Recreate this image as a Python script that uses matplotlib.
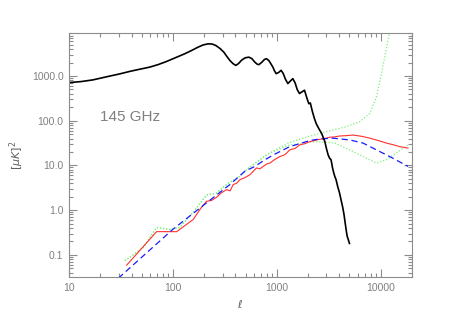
import matplotlib
matplotlib.use("Agg")
import matplotlib.pyplot as plt
from matplotlib.ticker import FixedLocator, LogLocator, NullFormatter, FuncFormatter

plt.rcParams["font.family"] = ["Liberation Sans", "DejaVu Sans"]

# CMB temperature spectrum (black)
cmb_l = [10, 13, 17, 24.8, 30, 38.6, 48, 60, 72, 87, 105, 130, 152, 174, 195,
         218, 238, 259, 285, 309, 330, 353, 378, 403, 428, 457, 495, 538, 575,
         614, 645, 671, 720, 760, 796, 840, 880, 916, 950, 985, 1040, 1099,
         1150, 1210, 1276, 1340, 1425, 1500, 1570, 1652, 1740, 1846, 1940, 2032,
         2100, 2200, 2306, 2400, 2479, 2580, 2692, 2800, 2898, 3000, 3115, 3220,
         3327, 3430, 3532, 3620, 3716, 3850, 4010, 4150, 4315, 4430, 4543, 4650,
         4746, 4870, 5000]
cmb_dl = [713, 750, 820, 1000, 1100, 1271, 1420, 1585, 1800, 2120, 2550, 3146,
          3750, 4406, 4950, 5248, 5200, 4810, 4100, 3415, 2750, 2234, 1900, 1727,
          1900, 2250, 2550, 2642, 2450, 2047, 1850, 1792, 2050, 2350, 2435, 2200,
          1850, 1585, 1300, 1130, 1200, 1339, 1150, 850, 678, 760, 875, 700, 500,
          406, 440, 481, 330, 240, 250, 160, 110, 85, 73.6, 62, 52.5, 42, 34.1,
          24, 17.3, 14.5, 13.4, 9, 6.78, 5.6, 4.81, 3.4, 2.44, 1.7, 1.13, 0.8,
          0.525, 0.36, 0.264, 0.22, 0.18]

# residual power spectrum, measured (red)
red_l = [35.9, 69.7, 108.6, 157, 185, 211, 235, 263, 290, 328, 355, 380, 410,
         441, 490, 550, 600, 638, 687, 738, 800, 857, 950, 1069, 1200, 1334,
         1500, 1664, 1850, 2077, 2300, 2590, 2900, 3236, 3600, 4040, 4700, 5420,
         6500, 7840, 9500, 11350, 13200, 15200, 18300]
red_dl = [0.059, 0.331, 0.33, 0.62, 1.1, 1.58, 1.65, 1.94, 2.4, 2.88, 2.7, 3.73,
          4.0, 4.8, 5.3, 6.2, 7.6, 8.8, 8.4, 9.5, 10.8, 11.3, 13.5, 15.8, 17.5,
          22.4, 24.0, 29, 30.5, 34.1, 36.0, 38.6, 40.0, 42.8, 43.5, 45.6, 46.5,
          47.9, 45.0, 40.9, 36.0, 31.6, 29.0, 26.4, 24.4]

# model (blue dashed)
blue_l = [29.8, 51.8, 99.5, 175, 353, 492, 614, 767, 957, 1334, 2077, 2590,
          3478, 5035, 6760, 9770, 13100, 18300]
blue_dl = [0.03, 0.095, 0.37, 1.04, 3.73, 7.4, 9.5, 13.4, 17.9, 26.4, 36.0,
           39.2, 40.7, 37.2, 31.6, 20.5, 14.5, 9.5]

# error envelope (green dotted)
gup_l = [34.5, 51.8, 69.7, 93.6, 116, 157, 211, 263, 340, 441, 526, 591, 819,
         1276, 1986, 3090, 4680, 6280, 7840, 9100, 10160, 11250, 12100]
gup_dl = [0.074, 0.146, 0.41, 0.37, 0.41, 0.9, 2.2, 2.4, 4.0, 5.7, 8.5, 10.4,
          18.0, 31.6, 44, 58, 74, 95, 146, 341, 1130, 3727, 8750]
glo_l = [34.5, 51.8, 69.7, 93.6, 116, 157, 211, 263, 340, 441, 526, 591, 819,
         1276, 1986, 2590, 3610, 5420, 7280, 9100, 11350, 14150, 18300]
glo_dl = [0.074, 0.146, 0.41, 0.37, 0.41, 0.9, 2.2, 2.4, 4.0, 5.7, 8.5, 10.4,
          18.0, 28.0, 33.0, 34.1, 31.6, 20.5, 14.5, 11.3, 13.4, 18.9, 29.0]

axis_gray = "#8c8c8c"

fig = plt.figure(figsize=(4.58, 3.27), dpi=100)
ax = fig.add_axes([0.1507, 0.1529, 0.7489, 0.7451])

ax.plot(gup_l, gup_dl, color="#7cf07c", lw=0.9, ls=(0, (1, 1.5)))
ax.plot(glo_l, glo_dl, color="#7cf07c", lw=0.9, ls=(0, (1, 1.5)))
ax.plot(red_l, red_dl, color="#ff3030", lw=0.8)
ax.plot(blue_l, blue_dl, color="#1a1aff", lw=0.9, ls=(0, (5, 3)))
ax.plot(cmb_l, cmb_dl, color="black", lw=1.2)

ax.set_xscale("log")
ax.set_yscale("log")
ax.set_xlim(10, 20000)
ax.set_ylim(0.032, 9000)

ax.xaxis.set_major_locator(FixedLocator([10, 100, 1000, 10000]))
ax.xaxis.set_minor_locator(LogLocator(base=10, subs=range(2, 10), numticks=20))
ax.yaxis.set_major_locator(FixedLocator([0.1, 1, 10, 100, 1000]))
ax.yaxis.set_minor_locator(LogLocator(base=10, subs=range(2, 10), numticks=20))
ax.xaxis.set_major_formatter(FuncFormatter(lambda v, p: f"{v:.0f}"))
ax.yaxis.set_major_formatter(FuncFormatter(lambda v, p: f"{v:.1f}"))
ax.xaxis.set_minor_formatter(NullFormatter())
ax.yaxis.set_minor_formatter(NullFormatter())

ax.tick_params(which="both", direction="in", top=True, right=True,
               color=axis_gray, labelcolor="#808080", labelsize=7.5, width=0.8)
ax.tick_params(which="major", length=6, pad=4)
ax.tick_params(which="minor", length=3)
for s in ax.spines.values():
    s.set_color(axis_gray)
    s.set_linewidth(0.8)

ax.set_xlabel(r"$\ell$", color="#606060", fontsize=8, labelpad=4)
ax.set_ylabel(r"$[\mu K]^2$", color="#606060", fontsize=8, labelpad=4)

ax.text(0.09, 0.655, "145 GHz", transform=ax.transAxes, color="#808080",
        fontsize=11, va="center", ha="left")

fig.savefig("out.png", dpi=100)
